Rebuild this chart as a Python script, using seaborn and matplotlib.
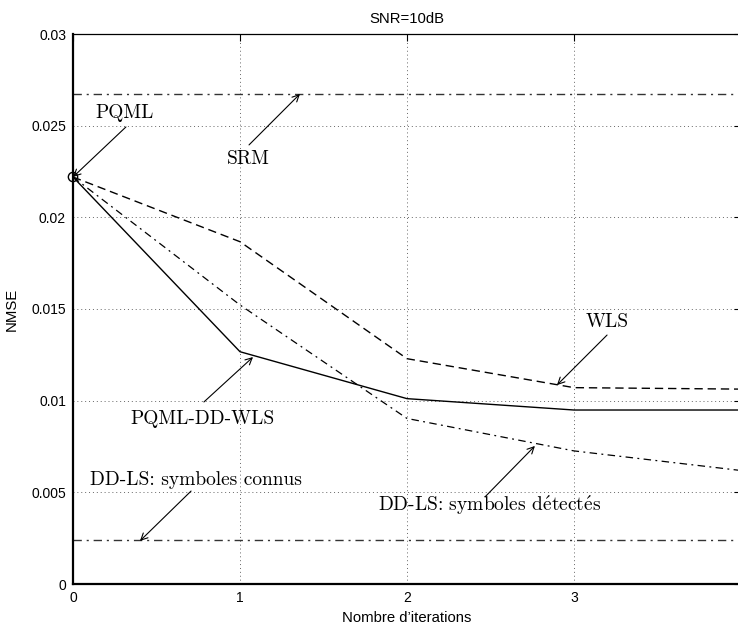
import numpy as np
import pandas as pd
import matplotlib
matplotlib.use("Agg")
import matplotlib.pyplot as plt
import seaborn as sns

# ---- data ----
iterations = [0, 1, 2, 3, 4]
pqml_dd_wls = [0.0222, 0.01267, 0.01011, 0.00949, 0.00949]
wls = [0.0222, 0.01867, 0.01229, 0.01071, 0.01063]
ddls_detectes = [0.0222, 0.01522, 0.00903, 0.00726, 0.00619]
pqml_point = [0.0222]
srm_level = 0.02673
ddls_connus_level = 0.0024

x_ticks = [0, 1, 2, 3, 4]
y_ticks = [0, 0.005, 0.01, 0.015, 0.02, 0.025, 0.03]
y_ticklabels = ["0", "0.005", "0.01", "0.015", "0.02", "0.025", "0.03"]

# annotations: (label, text center x, text center y, arrow start, arrow tip)
annotations = [
    ("PQML", 0.31, 0.02569, (0.317, 0.02493), (0.0, 0.0222)),
    ("SRM", 1.05, 0.02318, (1.054, 0.02395), (1.359, 0.02673)),
    ("WLS", 3.198, 0.01429, (3.198, 0.01358), (2.898, 0.01085)),
    ("PQML-DD-WLS", 0.778, 0.0090, (0.784, 0.00993), (1.078, 0.01238)),
    ("DD-LS: symboles connus", 0.737, 0.00567, (0.707, 0.00507), (0.401, 0.00235)),
    ("DD-LS: symboles d$\\mathrm{\\acute{e}}$tect$\\mathrm{\\acute{e}}$s",
     2.497, 0.00431, (2.467, 0.00475), (2.766, 0.00753)),
]

sns.set_theme(style="white")
plt.rcParams["font.family"] = ["Liberation Sans", "DejaVu Sans"]
plt.rcParams["mathtext.fontset"] = "cm"

W, H = 738, 624
fig = plt.figure(figsize=(W / 100, H / 100), dpi=100)
# axes: x=0 at px 73, x=4 at px 741 (beyond crop), y=0 at px 584, y=0.03 at px 34
ax = fig.add_axes([73 / W, (H - 584) / H, 668 / W, 550 / H])
ax.set_facecolor("white")

df = pd.DataFrame({
    "iter": iterations * 3,
    "nmse": pqml_dd_wls + wls + ddls_detectes,
    "method": ["PQML-DD-WLS"] * 5 + ["WLS"] * 5 + ["DD-LS detectes"] * 5,
})

dashdot = (0, (6, 3.5, 1.5, 3.5))
sns.lineplot(data=df[df.method == "PQML-DD-WLS"], x="iter", y="nmse", ax=ax,
             color="black", lw=1.0, linestyle="-", legend=False)
sns.lineplot(data=df[df.method == "WLS"], x="iter", y="nmse", ax=ax,
             color="black", lw=1.0, linestyle=(0, (6, 3.5)), legend=False)
sns.lineplot(data=df[df.method == "DD-LS detectes"], x="iter", y="nmse", ax=ax,
             color="black", lw=0.9, linestyle=dashdot, legend=False)
sns.scatterplot(x=[0], y=pqml_point, ax=ax, marker="o", s=45,
                facecolor="none", edgecolor="black", linewidth=1.0,
                legend=False, clip_on=False, zorder=5)

ax.axhline(srm_level, color="#333333", lw=1.0, linestyle=dashdot)
ax.axhline(ddls_connus_level, color="#333333", lw=1.0, linestyle=dashdot)

ax.set_xlim(0, 4)
ax.set_ylim(0, 0.03)
ax.set_xticks(x_ticks)
ax.set_xticklabels([str(t) for t in x_ticks])
ax.set_yticks(y_ticks)
ax.set_yticklabels(y_ticklabels)
ax.tick_params(direction="in", length=5, width=0.8, top=True, right=True,
               labelsize=10, colors="black", pad=5)
ax.grid(True, color="#666666", linestyle=(0, (1, 3)), lw=0.7)

for s in ["left", "bottom"]:
    ax.spines[s].set_linewidth(1.6)
for s in ["top", "right"]:
    ax.spines[s].set_linewidth(0.9)
for s in ax.spines.values():
    s.set_color("black")

ax.set_title("SNR=10dB", fontsize=10.7, pad=8, color="black")
ax.set_xlabel("Nombre d\u2019iterations", fontsize=10.7, color="black")
ax.set_ylabel("NMSE", fontsize=10.7, color="black")
ax.xaxis.set_label_coords(0.5, -0.049)
ax.yaxis.set_label_coords(-0.081, 0.5)

serif = ["cmr10", "DejaVu Serif"]
for label, tx, ty, start, tip in annotations:
    ax.text(tx, ty, label, ha="center", va="center", fontsize=14,
            family=serif, color="black")
    ax.annotate("", xy=tip, xytext=start,
                arrowprops=dict(arrowstyle="->", lw=0.8, color="black",
                                shrinkA=0, shrinkB=0, mutation_scale=12))

fig.savefig("out.png", dpi=100)
